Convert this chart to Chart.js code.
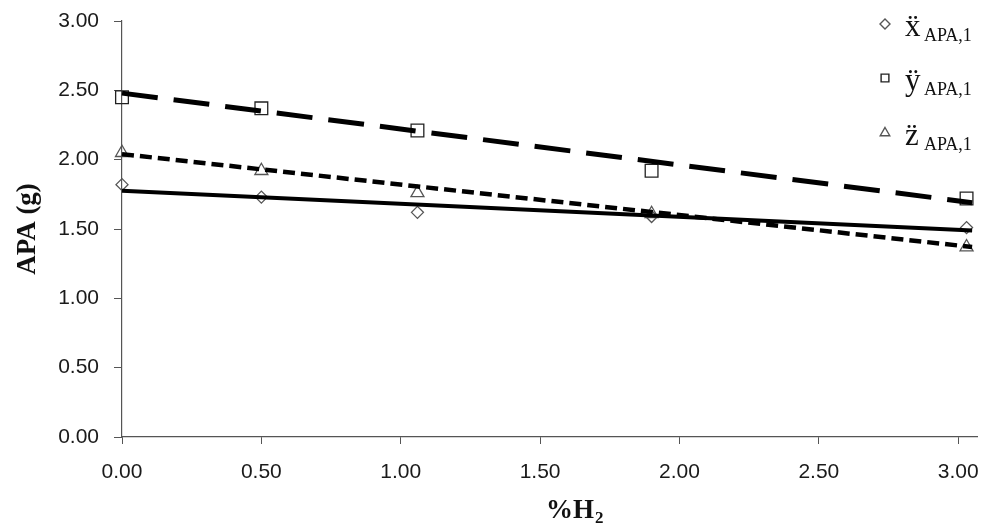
<!DOCTYPE html>
<html><head><meta charset="utf-8">
<script src="https://cdn.jsdelivr.net/npm/chart.js@4.4.1/dist/chart.umd.min.js"></script>
<style>html,body{margin:0;padding:0;background:#fff;}canvas{display:block;}</style>
</head><body>
<canvas id="c" width="988" height="530"></canvas>
<script>
// ---- data ----
const h2Percent = [0.00, 0.50, 1.06, 1.90, 3.03];
const xAPA = [1.82, 1.73, 1.62, 1.59, 1.51];
const yAPA = [2.45, 2.37, 2.21, 1.92, 1.72];
const zAPA = [2.05, 1.92, 1.76, 1.61, 1.37];
const trendX = [0.00, 3.05];
const xTrend = [1.775, 1.49];
const yTrend = [2.48, 1.69];
const zTrend = [2.04, 1.37];
const xTicks = [0.0, 0.5, 1.0, 1.5, 2.0, 2.5, 3.0];
const yTicks = [0.0, 0.5, 1.0, 1.5, 2.0, 2.5, 3.0];
const seriesNames = ['\u1E8D', '\u00FF', 'z\u0308'];
const seriesSub = 'APA,1';
const xTitleMain = '%H';
const xTitleSub = '2';
const yTitle = 'APA (g)';

const SANS = "'Liberation Sans', Arial, sans-serif";
const SERIF = "'Liberation Serif', 'Times New Roman', serif";
const pts = (xs, ys) => xs.map((x, i) => ({x: x, y: ys[i]}));

const styles = [
  {pointStyle: 'rectRot', r: 6, color: '#555', legR: 5, dash: [], lw: 4},
  {pointStyle: 'rect', r: 9, color: '#222', legR: 5.5, dash: [36, 16], lw: 5},
  {pointStyle: 'triangle', r: 7.5, color: '#555', legR: 5.5, dash: [12, 6], lw: 4.5}
];
const seriesVals = [xAPA, yAPA, zAPA];
const trendVals = [xTrend, yTrend, zTrend];

const datasets = [];
trendVals.forEach((tv, i) => {
  datasets.push({
    type: 'scatter', data: pts(trendX, tv), showLine: true,
    borderColor: '#000', borderWidth: styles[i].lw, borderDash: styles[i].dash,
    pointRadius: 0, pointHoverRadius: 0, fill: false, order: 0, clip: false
  });
});
seriesVals.forEach((sv, i) => {
  datasets.push({
    type: 'scatter', data: pts(h2Percent, sv), showLine: false,
    pointStyle: styles[i].pointStyle, pointRadius: styles[i].r,
    pointBorderColor: styles[i].color, pointBackgroundColor: 'rgba(0,0,0,0)',
    pointBorderWidth: 1.3, order: 1, clip: false
  });
});

const legendPlugin = {
  id: 'customLegend',
  afterDraw(chart) {
    const ctx = chart.ctx;
    const rows = [36, 90, 145];
    ctx.save();
    rows.forEach((base, i) => {
      ctx.strokeStyle = styles[i].color;
      ctx.fillStyle = 'rgba(0,0,0,0)';
      ctx.lineWidth = 1.4;
      Chart.helpers.drawPoint(ctx, {pointStyle: styles[i].pointStyle, radius: styles[i].legR, borderWidth: 1.4, rotation: 0},
        885, base - 12);
      ctx.fillStyle = '#111';
      ctx.textBaseline = 'alphabetic';
      ctx.textAlign = 'left';
      ctx.font = '31px ' + SERIF;
      ctx.fillText(seriesNames[i], 905, base);
      ctx.font = '18px ' + SERIF;
      ctx.fillText(seriesSub, 924, base + 5);
    });
    // x axis title with subscript
    ctx.fillStyle = '#111';
    ctx.font = 'bold 27px ' + SERIF;
    ctx.fillText(xTitleMain, 546, 518);
    const w = ctx.measureText(xTitleMain).width;
    ctx.font = 'bold 17px ' + SERIF;
    ctx.fillText(xTitleSub, 546 + w + 1, 523);
    ctx.restore();
  }
};

new Chart(document.getElementById('c'), {
  type: 'scatter',
  data: {datasets: datasets},
  options: {
    responsive: false, animation: false, devicePixelRatio: 1,
    layout: {padding: {top: 21, right: 6, left: 0, bottom: 0}},
    plugins: {legend: {display: false}, tooltip: {enabled: false}},
    scales: {
      x: {
        type: 'linear', min: 0, max: 3.07,
        afterBuildTicks: s => { s.ticks = xTicks.map(v => ({value: v})); },
        afterFit: s => { s.height = 93; s.paddingRight = 0; s.paddingLeft = 0; },
        grid: {drawOnChartArea: false, drawTicks: true, tickLength: 7, tickColor: '#555', lineWidth: 1},
        border: {display: true, color: '#555', width: 1.2},
        ticks: {padding: 16, color: '#1a1a1a', font: {family: SANS, size: 21}, callback: v => Number(v).toFixed(2), maxRotation: 0}
      },
      y: {
        type: 'linear', min: 0, max: 3,
        afterBuildTicks: s => { s.ticks = yTicks.map(v => ({value: v})); },
        afterFit: s => { s.width = 122; s.paddingTop = 0; s.paddingBottom = 0; },
        grid: {drawOnChartArea: false, drawTicks: true, tickLength: 8, tickColor: '#555', lineWidth: 1},
        border: {display: true, color: '#555', width: 1.2},
        ticks: {padding: 15, color: '#1a1a1a', font: {family: SANS, size: 21}, callback: v => Number(v).toFixed(2)},
        title: {display: true, text: yTitle, color: '#111', font: {family: SERIF, size: 27, weight: 'bold'}, padding: {top: 12, bottom: 0}}
      }
    }
  },
  plugins: [legendPlugin]
});
</script>
</body></html>
